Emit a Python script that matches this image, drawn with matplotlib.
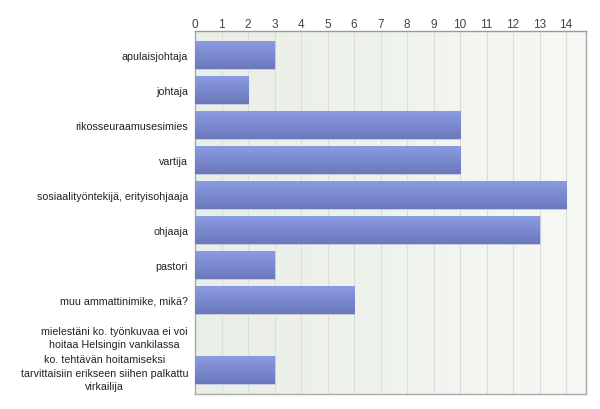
import numpy as np
import matplotlib
matplotlib.use("Agg")
import matplotlib.pyplot as plt
from matplotlib.colors import LinearSegmentedColormap

categories = [
    "apulaisjohtaja",
    "johtaja",
    "rikosseuraamusesimies",
    "vartija",
    "sosiaalityöntekijä, erityisohjaaja",
    "ohjaaja",
    "pastori",
    "muu ammattinimike, mikä?",
    "mielestäni ko. työnkuvaa ei voi\nhoitaa Helsingin vankilassa",
    "ko. tehtävän hoitamiseksi\ntarvittaisiin erikseen siihen palkattu\nvirkailija",
]
values = [3, 2, 10, 10, 14, 13, 3, 6, 0, 3]
xticks = list(range(0, 15))

plt.rcParams['font.family'] = ['Liberation Sans', 'DejaVu Sans']

fig = plt.figure(figsize=(6, 4.1), dpi=100)
ax = fig.add_axes([195/600, 1-395/410, (586-195)/600, (395-32)/410])

n = len(categories)
ypos = np.arange(n)
bar_h = 0.8

# background gradient
bg = LinearSegmentedColormap.from_list("bg", ["#e9eee6", "#f6f8f4"])
ax.imshow(np.linspace(0, 1, 256).reshape(1, -1), cmap=bg, aspect='auto',
          extent=[0, 1, 0, 1], transform=ax.transAxes, zorder=0)

for x in xticks[1:]:
    ax.axvline(x, color="#dcdedb", lw=0.8, zorder=1)

barcm = LinearSegmentedColormap.from_list("bar", ["#8b9be2", "#6b79bb"])
grad = np.linspace(0, 1, 64).reshape(-1, 1)
bars = ax.barh(ypos, values, height=bar_h, color="#7b8ad0",
               edgecolor="#c9cfe6", linewidth=0.6, zorder=2)
for b, v in zip(bars, values):
    if v <= 0:
        continue
    y0 = b.get_y()
    ax.imshow(grad, cmap=barcm, aspect='auto',
              extent=[0, v, y0 + bar_h, y0], zorder=3, interpolation='bilinear')

ax.set_xlim(0, 14.75)
ax.set_ylim(n - 0.5 + 0.19, -0.5 - 0.19)

ax.xaxis.tick_top()
ax.set_xticks(xticks)
ax.set_xticklabels([str(t) for t in xticks], fontsize=8.5, color="#444444")
ax.tick_params(axis='x', length=0, pad=1)
ax.set_yticks(ypos)
ax.set_yticklabels(categories, fontsize=7.7, color="#222222")
for lab in ax.get_yticklabels():
    lab.set_multialignment('center')
    lab.set_linespacing(1.45)
ax.tick_params(axis='y', length=0, pad=5)

for s in ax.spines.values():
    s.set_color("#aaaaaa")
    s.set_linewidth(1)
ax.spines['top'].set_color("#999999")

fig.savefig("out.png", dpi=100)
